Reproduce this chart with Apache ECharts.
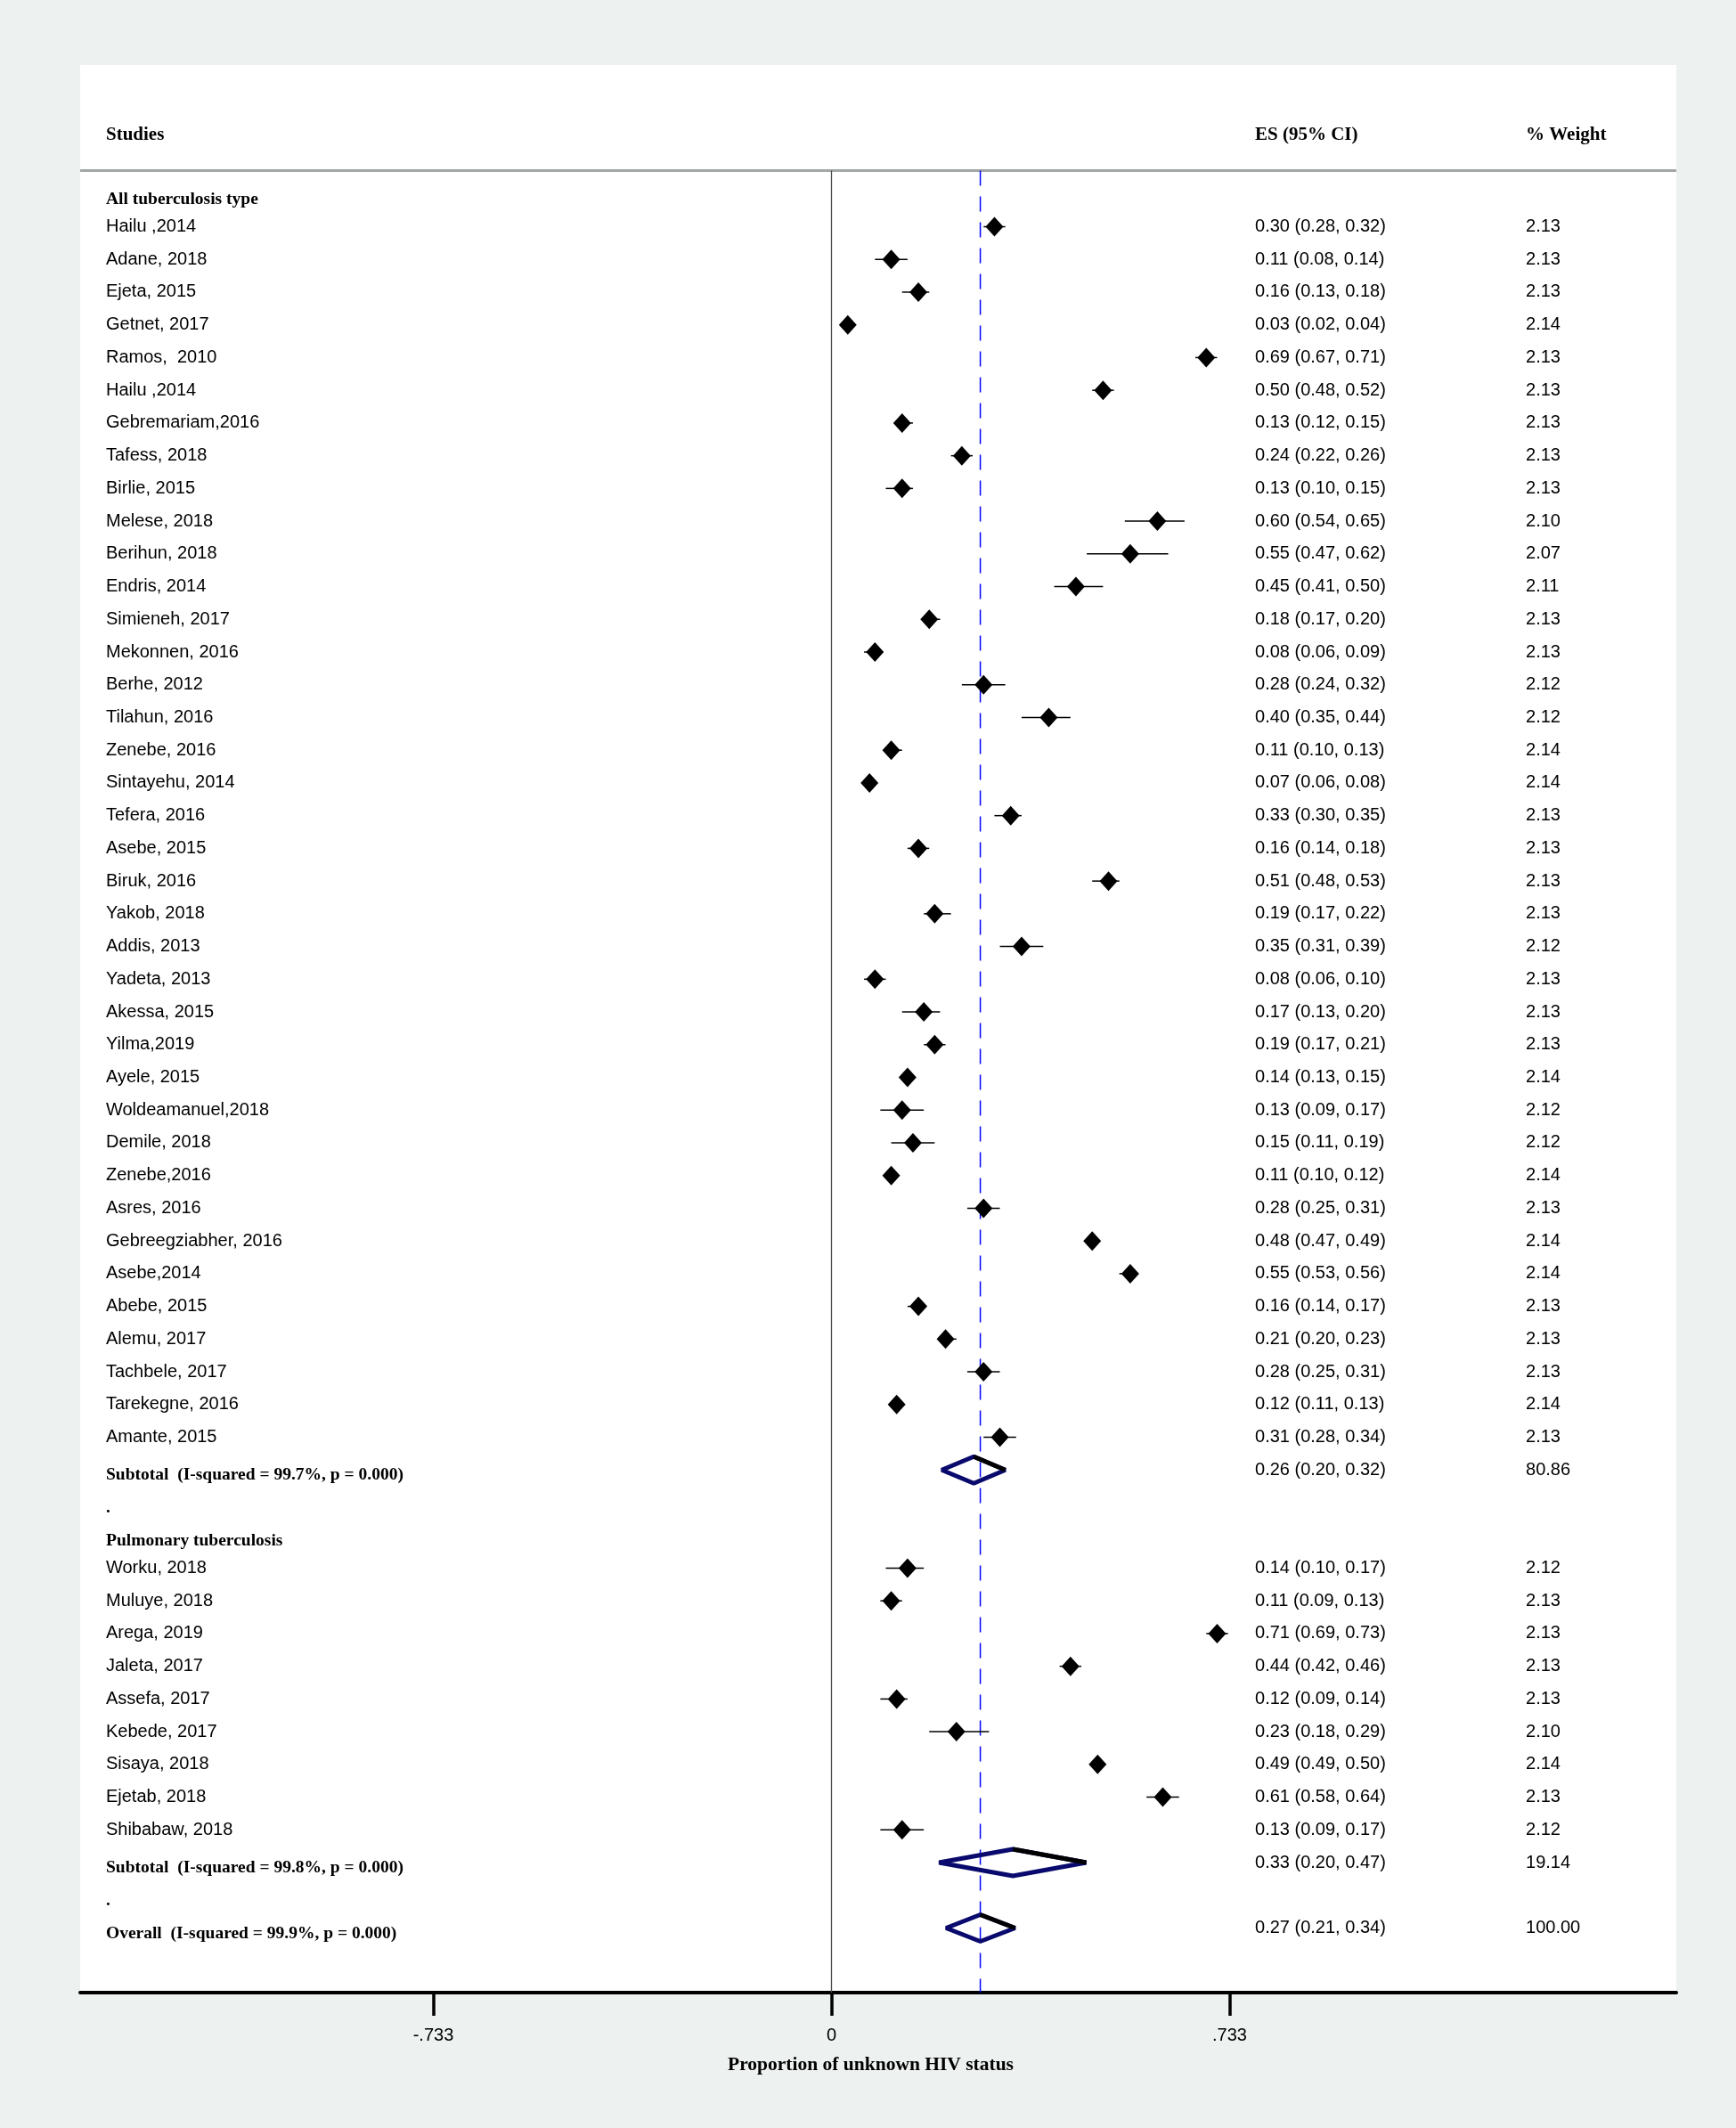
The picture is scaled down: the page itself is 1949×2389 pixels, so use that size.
<!DOCTYPE html>
<html>
<head>
<meta charset="utf-8">
<script src="https://cdn.jsdelivr.net/npm/echarts@6/dist/echarts.min.js"></script>
<style>
  html, body { margin: 0; padding: 0; background: #edf1f0; }
  #chart { width: 1949px; height: 2389px; }
</style>
</head>
<body>
<div id="chart"></div>
<script>
// ---------------- data ----------------
const groupHeadings = ['All tuberculosis type', 'Pulmonary tuberculosis'];

const group1Names = ['Hailu ,2014', 'Adane, 2018', 'Ejeta, 2015', 'Getnet, 2017', 'Ramos,  2010', 'Hailu ,2014',
  'Gebremariam,2016', 'Tafess, 2018', 'Birlie, 2015', 'Melese, 2018', 'Berihun, 2018', 'Endris, 2014',
  'Simieneh, 2017', 'Mekonnen, 2016', 'Berhe, 2012', 'Tilahun, 2016', 'Zenebe, 2016', 'Sintayehu, 2014',
  'Tefera, 2016', 'Asebe, 2015', 'Biruk, 2016', 'Yakob, 2018', 'Addis, 2013', 'Yadeta, 2013', 'Akessa, 2015',
  'Yilma,2019', 'Ayele, 2015', 'Woldeamanuel,2018', 'Demile, 2018', 'Zenebe,2016', 'Asres, 2016',
  'Gebreegziabher, 2016', 'Asebe,2014', 'Abebe, 2015', 'Alemu, 2017', 'Tachbele, 2017', 'Tarekegne, 2016',
  'Amante, 2015'];
const group1ES = [0.30, 0.11, 0.16, 0.03, 0.69, 0.50, 0.13, 0.24, 0.13, 0.60, 0.55, 0.45, 0.18, 0.08, 0.28, 0.40,
  0.11, 0.07, 0.33, 0.16, 0.51, 0.19, 0.35, 0.08, 0.17, 0.19, 0.14, 0.13, 0.15, 0.11, 0.28, 0.48, 0.55, 0.16,
  0.21, 0.28, 0.12, 0.31];
const group1Lo = [0.28, 0.08, 0.13, 0.02, 0.67, 0.48, 0.12, 0.22, 0.10, 0.54, 0.47, 0.41, 0.17, 0.06, 0.24, 0.35,
  0.10, 0.06, 0.30, 0.14, 0.48, 0.17, 0.31, 0.06, 0.13, 0.17, 0.13, 0.09, 0.11, 0.10, 0.25, 0.47, 0.53, 0.14,
  0.20, 0.25, 0.11, 0.28];
const group1Hi = [0.32, 0.14, 0.18, 0.04, 0.71, 0.52, 0.15, 0.26, 0.15, 0.65, 0.62, 0.50, 0.20, 0.09, 0.32, 0.44,
  0.13, 0.08, 0.35, 0.18, 0.53, 0.22, 0.39, 0.10, 0.20, 0.21, 0.15, 0.17, 0.19, 0.12, 0.31, 0.49, 0.56, 0.17,
  0.23, 0.31, 0.13, 0.34];
const group1Wt = [2.13, 2.13, 2.13, 2.14, 2.13, 2.13, 2.13, 2.13, 2.13, 2.10, 2.07, 2.11, 2.13, 2.13, 2.12, 2.12,
  2.14, 2.14, 2.13, 2.13, 2.13, 2.13, 2.12, 2.13, 2.13, 2.13, 2.14, 2.12, 2.12, 2.14, 2.13, 2.14, 2.14, 2.13,
  2.13, 2.13, 2.14, 2.13];

const group2Names = ['Worku, 2018', 'Muluye, 2018', 'Arega, 2019', 'Jaleta, 2017', 'Assefa, 2017', 'Kebede, 2017',
  'Sisaya, 2018', 'Ejetab, 2018', 'Shibabaw, 2018'];
const group2ES = [0.14, 0.11, 0.71, 0.44, 0.12, 0.23, 0.49, 0.61, 0.13];
const group2Lo = [0.10, 0.09, 0.69, 0.42, 0.09, 0.18, 0.49, 0.58, 0.09];
const group2Hi = [0.17, 0.13, 0.73, 0.46, 0.14, 0.29, 0.50, 0.64, 0.17];
const group2Wt = [2.12, 2.13, 2.13, 2.13, 2.13, 2.10, 2.14, 2.13, 2.12];

const subtotalLabels = ['Subtotal  (I-squared = 99.7%, p = 0.000)', 'Subtotal  (I-squared = 99.8%, p = 0.000)'];
const subtotalES = [0.262, 0.334];
const subtotalLo = [0.203, 0.198];
const subtotalHi = [0.320, 0.469];
const subtotalWt = [80.86, 19.14];

const overallLabel = 'Overall  (I-squared = 99.9%, p = 0.000)';
const overallES = 0.274, overallLo = 0.211, overallHi = 0.338, overallWt = 100.00;

const headerLabels = ['Studies', 'ES (95% CI)', '% Weight'];
const xTicks = [-0.733, 0, 0.733];
const xTickLabels = ['-.733', '0', '.733'];
const xAxisTitle = 'Proportion of unknown HIV status';

// ---------------- layout (scale extents) ----------------
const X_MIN = -1.3832, X_MAX = 1.5554;
const Y_MIN = -3.942, Y_MAX = 54.974;
const SEP_ROW = -0.716, HEAD_ROW = -1.8;
const COL_STUDY = -1.3357, COL_ES = 0.7798, COL_WT = 1.2783;

const SANS = '"Liberation Sans", Arial, sans-serif';
const SERIF = '"Liberation Serif", "Times New Roman", serif';

function esText(e, l, h) { return e.toFixed(2) + ' (' + l.toFixed(2) + ', ' + h.toFixed(2) + ')'; }

// ---------------- build rows ----------------
const studyPts = [];   // [es, row, lo, hi]
const pooledPts = [];  // [es, row, lo, hi]
const texts = [];      // {x, row, text, bold}

let row = 0;
headerLabels.forEach((t, i) => texts.push({ x: [COL_STUDY, COL_ES, COL_WT][i], row: HEAD_ROW, text: t, bold: true, head: true }));

function addGroup(heading, names, es, lo, hi, wt, subLabel, sEs, sLo, sHi, sWt) {
  texts.push({ x: COL_STUDY, row: row, text: heading, bold: true });
  row++;
  names.forEach((n, i) => {
    studyPts.push([es[i], row, lo[i], hi[i]]);
    texts.push({ x: COL_STUDY, row: row, text: n });
    texts.push({ x: COL_ES, row: row, text: esText(es[i], lo[i], hi[i]) });
    texts.push({ x: COL_WT, row: row, text: wt[i].toFixed(2) });
    row++;
  });
  pooledPts.push([sEs, row, sLo, sHi]);
  texts.push({ x: COL_STUDY, row: row, text: subLabel, bold: true });
  texts.push({ x: COL_ES, row: row, text: esText(sEs, sLo, sHi) });
  texts.push({ x: COL_WT, row: row, text: sWt.toFixed(2) });
  row++;
  texts.push({ x: COL_STUDY, row: row, text: '.', bold: true });
  row++;
}
addGroup(groupHeadings[0], group1Names, group1ES, group1Lo, group1Hi, group1Wt,
  subtotalLabels[0], subtotalES[0], subtotalLo[0], subtotalHi[0], subtotalWt[0]);
addGroup(groupHeadings[1], group2Names, group2ES, group2Lo, group2Hi, group2Wt,
  subtotalLabels[1], subtotalES[1], subtotalLo[1], subtotalHi[1], subtotalWt[1]);
pooledPts.push([overallES, row, overallLo, overallHi]);
texts.push({ x: COL_STUDY, row: row, text: overallLabel, bold: true });
texts.push({ x: COL_ES, row: row, text: esText(overallES, overallLo, overallHi) });
texts.push({ x: COL_WT, row: row, text: overallWt.toFixed(2) });

// ---------------- chart ----------------
const chart = echarts.init(document.getElementById('chart'), null, { renderer: 'canvas' });

const option = {
  backgroundColor: '#edf1f0',
  animation: false,
  grid: { left: 90, right: 67, top: 73, bottom: 152, show: true, backgroundColor: '#ffffff', borderWidth: 0 },
  xAxis: {
    type: 'value', min: X_MIN, max: X_MAX,
    splitLine: { show: false },
    axisLine: { show: true, onZero: false, lineStyle: { color: '#000', width: 4 } },
    axisTick: { show: true, customValues: xTicks, length: 26, lineStyle: { color: '#000', width: 3.5 } },
    axisLabel: {
      show: true, customValues: xTicks, margin: 38, color: '#000', fontSize: 20, fontFamily: SANS,
      formatter: v => { const i = xTicks.findIndex(t => Math.abs(t - v) < 1e-6); return i >= 0 ? xTickLabels[i] : ''; }
    },
    name: xAxisTitle, nameLocation: 'middle', nameGap: 70,
    nameTextStyle: { color: '#000', fontSize: 21.5, fontWeight: 'bold', fontFamily: SERIF, padding: [0, 17, 0, 0] }
  },
  yAxis: {
    type: 'value', inverse: true, min: Y_MIN, max: Y_MAX, show: false,
    axisLine: { onZero: false }, splitLine: { show: false }
  },
  series: [
    { // header separator
      type: 'line', data: [[X_MIN, SEP_ROW], [X_MAX, SEP_ROW]], symbol: 'none', silent: true,
      lineStyle: { color: '#a3a6a6', width: 3 }, z: 1
    },
    { // null line at 0
      type: 'line', data: [[0, SEP_ROW], [0, Y_MAX]], symbol: 'none', silent: true,
      lineStyle: { color: '#4a4a4a', width: 1.3 }, z: 2
    },
    { // overall effect dashed line
      type: 'line', data: [[overallES, SEP_ROW], [overallES, Y_MAX]], symbol: 'none', silent: true,
      lineStyle: { color: '#0000ff', width: 1.5, type: [17, 12] }, z: 2
    },
    { // study estimates
      type: 'custom', z: 5, data: studyPts, clip: false,
      renderItem: (params, api) => {
        const c = api.coord([api.value(0), api.value(1)]);
        const l = api.coord([api.value(2), api.value(1)]);
        const h = api.coord([api.value(3), api.value(1)]);
        const w = 10, hh = 11;
        return {
          type: 'group', children: [
            { type: 'line', shape: { x1: l[0], y1: l[1], x2: h[0], y2: h[1] }, style: { stroke: '#000', lineWidth: 1.5 } },
            { type: 'polygon', shape: { points: [[c[0] - w, c[1]], [c[0], c[1] - hh], [c[0] + w, c[1]], [c[0], c[1] + hh]] },
              style: { fill: '#000' } }
          ]
        };
      }
    },
    { // pooled diamonds
      type: 'custom', z: 6, data: pooledPts, clip: false,
      renderItem: (params, api) => {
        const c = api.coord([api.value(0), api.value(1)]);
        const l = api.coord([api.value(2), api.value(1)]);
        const h = api.coord([api.value(3), api.value(1)]);
        const hh = 15;
        return {
          type: 'group', children: [
            { type: 'polygon', shape: { points: [[l[0], l[1]], [c[0], c[1] - hh], [h[0], h[1]], [c[0], c[1] + hh]] },
              style: { fill: 'none', stroke: '#0a0a6e', lineWidth: 5, lineJoin: 'bevel' } },
            { type: 'polyline', shape: { points: [[c[0], c[1] - hh], [h[0], h[1]]] },
              style: { fill: 'none', stroke: '#000', lineWidth: 5, lineCap: 'butt' } }
          ]
        };
      }
    },
    { // table text
      type: 'custom', z: 10, clip: false, silent: true,
      data: texts.map(t => [t.x, t.row]),
      renderItem: (params, api) => {
        const t = texts[params.dataIndex];
        const p = api.coord([api.value(0), api.value(1)]);
        const dy = (t.bold && !t.head) ? 6 : 0;
        return {
          type: 'text', x: p[0], y: p[1] + dy,
          style: {
            text: t.text, fill: '#000',
            fontSize: t.bold ? (t.head ? 21 : 19.5) : 20,
            fontWeight: t.bold ? 'bold' : 'normal',
            fontFamily: t.bold ? SERIF : SANS,
            align: 'left', verticalAlign: 'middle'
          }
        };
      }
    }
  ]
};
chart.setOption(option);
</script>
</body>
</html>
